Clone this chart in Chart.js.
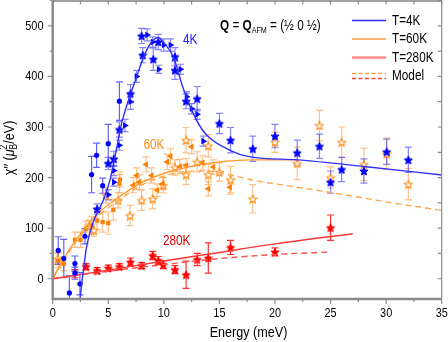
<!DOCTYPE html>
<html>
<head>
<meta charset="utf-8">
<script src="https://cdn.jsdelivr.net/npm/chart.js@4.4.0/dist/chart.umd.min.js"></script>
<style>
  html, body { margin: 0; padding: 0; background: #fff; }
  canvas { display: block; }
</style>
</head>
<body>
<canvas id="chart" width="448" height="342"></canvas>
<script>
// Data: [energy (meV), chi'' , error]
const k4Stars = [[4.0,138,10],[5.0,228,12],[5.5,237,15],[6.0,295,15],[7.0,366,18],[8.0,480,15],[8.1,442,15],
  [9.05,434,22],[9.5,468,15],[11.0,439,18],[11.0,412,18],[12.0,351,15],[13.0,356,24],[15.0,307,20],[16.0,274,25],
  [18.0,257,25],[20.0,282,23],[22.0,249,25],[24.0,262,24],[25.0,191,22],[26.0,216,24],[28.0,213,24],[30.05,251,25],[32.0,235,25]];
const k4Triangles = [[5.0,166,10],[5.5,191,8],[5.5,214,10],[6.0,264,10],[6.5,303,12],[7.0,350,15],[7.55,400,12],
  [8.5,482,12],[9.0,468,10],[9.55,414,8],[10.0,462,12],[10.6,462,12],[11.5,414,10],[12.05,360,10],[12.5,336,10],
  [13.0,325,10],[13.55,272,10]];
const k4Circles = [[0.5,56,27],[1.0,40,38],[1.5,-28,34],[2.0,30,15],[2.0,11,12],[2.45,-10,22],[2.9,84,15],
  [3.5,206,36],[3.95,244,24],[4.5,184,15],[5.0,267,38],[6.0,351,38]];

const k60Squares = [[0.5,36,14],[1.0,30,14],[2.0,77,15],[2.5,77,15],[3.0,99,15],[3.5,105,18],[4.0,115,18],
  [4.5,112,20],[5.0,110,22],[5.45,136,20],[6.0,188,18],[6.05,196,15]];
const k60Triangles = [[7.25,185,15],[7.55,204,15],[7.8,191,15],[8.4,226,15],[8.9,204,15],[9.4,175,12],[9.9,188,12],
  [10.3,231,15],[10.6,242,15],[11.45,222,14],[12.0,224,14],[12.5,261,14],[13.5,229,14],[14.45,221,14],[14.0,178,14],[15.95,181,14]];
const k60Stars = [[0.45,40,12],[3.3,104,12],[3.7,96,12],[4.8,165,15],[5.9,155,15],[6.95,125,20],[8.0,155,20],
  [9.0,158,20],[9.95,185,15],[11.0,220,15],[12.0,274,25],[12.0,206,20],[13.0,231,20],[14.0,263,22],[14.0,206,20],
  [15.0,211,18],[16.0,196,26],[18.0,158,28],[20.0,270,20],[22.0,228,32],[24.0,303,30],[25.0,200,21],[26.0,270,30],
  [28.0,226,32],[30.05,247,31],[32.0,187,31]];

const k280Stars = [[3.0,24,6],[4.0,16,6],[5.0,21,6],[6.0,24,6],[7.0,33,8],[8.0,26,6],[9.0,46,8],[9.5,36,8],
  [9.95,28,8],[11.0,18,8],[12.0,8,27],[13.0,38,12],[14.0,41,30],[16.0,62,14],[20.0,53,8],[25.0,101,25]];
const k280Squares = [[2.0,10,8]];

// fit and model curves
const fit4kE = [2.45,3.05,3.65,4.55,5.15,5.6,6.2,7.55,8.3,8.9,9.5,10.0,10.85,11.75,12.95,13.85,15.95,17.75,22,28,35];
const fit4kV = [-40,63,112,155,195,241,307,399,445,468,477,466,439,376,313,284,254,241,235,222,205];
const fit60kE = [0,1,2,4,6,8,10,12,14,16,18,22];
const fit60kV = [0,40,74,128,162,190,208,220,228,233,235,235];
const model60kE = [0,1,2,4,6,8,10,12,14,16,18,22,26,30,35];
const model60kV = [0,37,70,122,156,185,203,212,213,205,195,181,167,152,135];
const fit280kE = [0,5,10,15,20,27];
const fit280kV = [0,17,35,52,69,89];
const model280kE = [0,5,10,15,20,25];
const model280kV = [0,15,28,40,48,53];

const xTicks = [0,5,10,15,20,25,30,35];
const yTicks = [0,100,200,300,400,500];

const FONT = '"Liberation Sans", Arial, sans-serif';
const NARROW = 0.84;   // the figure uses a condensed sans
const BLUE = '#0000ff', ORANGE = '#ff8000', RED = '#ff0000';

// Utility functions
function starImage(size, fill, stroke, lw = 1) {
  const c = document.createElement('canvas');
  c.width = c.height = size;
  const g = c.getContext('2d');
  const R = size / 2 - 0.7, r = R * 0.45;
  g.beginPath();
  for (let i = 0; i < 10; i++) {
    const a = -Math.PI / 2 + i * Math.PI / 5;
    const rad = i % 2 ? r : R;
    g.lineTo(size / 2 + rad * Math.cos(a), size / 2 + 0.5 + rad * Math.sin(a));
  }
  g.closePath();
  g.fillStyle = fill;
  g.fill();
  g.strokeStyle = stroke;
  g.lineWidth = lw;
  g.stroke();
  return c;
}

function points(arr) { return arr.map(p => ({x: p[0], y: p[1]})); }
function errors(arr) { return arr.map(p => p[2]); }
function curve(xs, ys) { return xs.map((x, i) => ({x: x, y: ys[i]})); }

// text squeezed horizontally to mimic the condensed face
function text(ctx, s, x, y, font, align = 'left', baseline = 'alphabetic') {
  ctx.save();
  ctx.font = font;
  ctx.textAlign = align;
  ctx.textBaseline = baseline;
  ctx.translate(x, y);
  ctx.scale(NARROW, 1);
  ctx.fillText(s, 0, 0);
  const w = ctx.measureText(s).width * NARROW;
  ctx.restore();
  return w;
}

function markerSet(arr, style, color, errColor, extra = {}) {
  return Object.assign({
    data: points(arr),
    errors: errors(arr),
    errorColor: errColor,
    pointStyle: style,
    pointRadius: 3.5,
    backgroundColor: color,
    borderColor: color,
    borderWidth: 0,
    showLine: false
  }, extra);
}

function lineSet(xs, ys, color, dash, width = 1.4) {
  return {
    data: curve(xs, ys),
    showLine: true,
    borderColor: color,
    borderWidth: width,
    borderDash: dash,
    pointRadius: 0,
    cubicInterpolationMode: 'monotone',
    fill: false
  };
}

// Error bars, drawn under the markers
const errorBars = {
  id: 'errorBars',
  beforeDatasetsDraw(chart) {
    const ctx = chart.ctx, xs = chart.scales.x, ys = chart.scales.y, a = chart.chartArea;
    ctx.save();
    ctx.beginPath();
    ctx.rect(a.left, a.top, a.right - a.left, a.bottom - a.top);
    ctx.clip();
    for (let i = chart.data.datasets.length - 1; i >= 0; i--) {
      const ds = chart.data.datasets[i];
      if (!ds.errors) continue;
      ctx.strokeStyle = ds.errorColor;
      ctx.lineWidth = 1.2;
      ds.data.forEach((p, j) => {
        const px = xs.getPixelForValue(p.x);
        const y1 = ys.getPixelForValue(p.y - ds.errors[j]);
        const y2 = ys.getPixelForValue(p.y + ds.errors[j]);
        ctx.beginPath();
        ctx.moveTo(px, y1); ctx.lineTo(px, y2);
        ctx.moveTo(px - 3.5, y1); ctx.lineTo(px + 3.5, y1);
        ctx.moveTo(px - 3.5, y2); ctx.lineTo(px + 3.5, y2);
        ctx.stroke();
      });
    }
    ctx.restore();
  }
};

// Frame, ticks, tick labels, legend and annotations
const decorations = {
  id: 'decorations',
  afterDraw(chart) {
    const ctx = chart.ctx, xs = chart.scales.x, ys = chart.scales.y, a = chart.chartArea;
    ctx.save();
    // frame
    ctx.strokeStyle = '#8c8c8c';
    ctx.lineWidth = 2.5;
    ctx.beginPath();
    ctx.moveTo(a.left, a.top); ctx.lineTo(a.left, a.bottom); ctx.lineTo(a.right, a.bottom);
    ctx.stroke();
    ctx.lineWidth = 1.2;
    ctx.beginPath();
    ctx.moveTo(a.right, a.bottom); ctx.lineTo(a.right, a.top);
    ctx.stroke();
    ctx.strokeStyle = '#444';
    ctx.beginPath();
    ctx.moveTo(a.left, a.top + 0.5); ctx.lineTo(a.right, a.top + 0.5);
    ctx.stroke();

    // ticks
    ctx.strokeStyle = '#8c8c8c';
    ctx.lineWidth = 1.2;
    ctx.beginPath();
    for (let v = 0; v <= 35; v += 2.5) {
      const px = xs.getPixelForValue(v);
      const major = v % 5 === 0;
      ctx.moveTo(px, a.bottom); ctx.lineTo(px, a.bottom + (major ? 5 : 3));
      ctx.moveTo(px, a.top); ctx.lineTo(px, a.top + 4);
    }
    for (let v = 0; v <= 550; v += 50) {
      const py = ys.getPixelForValue(v);
      const major = v % 100 === 0;
      ctx.moveTo(a.left, py); ctx.lineTo(a.left - (major ? 5 : 3), py);
      ctx.moveTo(a.right, py); ctx.lineTo(a.right - 4, py);
    }
    ctx.stroke();

    // tick labels
    ctx.fillStyle = '#000';
    xTicks.forEach(v => text(ctx, String(v), xs.getPixelForValue(v), 313.5, '13px ' + FONT, 'center', 'middle'));
    yTicks.forEach(v => text(ctx, String(v), 43.5, ys.getPixelForValue(v) + 0.5, '13px ' + FONT, 'right', 'middle'));

    // legend
    const lx1 = 352, lx2 = 386, tx = 392;
    const rows = [
      {y: 20.5, label: 'T=4K', color: '#2a2aff', width: 1.4},
      {y: 39, label: 'T=60K', color: '#ff9a3a', width: 1.6},
      {y: 57.5, label: 'T=280K', color: 'rgba(255,60,60,0.6)', width: 2.6}
    ];
    rows.forEach(r => {
      ctx.strokeStyle = r.color;
      ctx.lineWidth = r.width;
      ctx.setLineDash([]);
      ctx.beginPath(); ctx.moveTo(lx1, r.y); ctx.lineTo(lx2, r.y); ctx.stroke();
      text(ctx, r.label, tx, r.y + 0.5, '14px ' + FONT, 'left', 'middle');
    });
    ctx.setLineDash([4, 2.5]);
    ctx.lineWidth = 1.4;
    ctx.strokeStyle = '#ffa040';
    ctx.beginPath(); ctx.moveTo(lx1, 73.5); ctx.lineTo(lx2, 73.5); ctx.stroke();
    ctx.strokeStyle = '#ff4040';
    ctx.beginPath(); ctx.moveTo(lx1, 78.5); ctx.lineTo(lx2, 78.5); ctx.stroke();
    ctx.setLineDash([]);
    text(ctx, 'Model', tx, 76.5, '14px ' + FONT, 'left', 'middle');

    // Q annotation
    let x = 220;
    x += text(ctx, 'Q', x, 30, 'bold 14px ' + FONT);
    x += text(ctx, ' = ', x, 30, '14px ' + FONT);
    x += text(ctx, 'Q', x, 30, 'bold 14px ' + FONT);
    x += text(ctx, 'AFM', x, 32.5, '8.5px ' + FONT);
    text(ctx, ' = (\u00bd 0 \u00bd)', x, 30, '14px ' + FONT);

    // temperature labels
    ctx.fillStyle = '#2020ff'; text(ctx, '4K', 183, 43.5, '14px ' + FONT);
    ctx.fillStyle = '#ff8c1a'; text(ctx, '60K', 143.5, 148.5, '14px ' + FONT);
    ctx.fillStyle = '#e00000'; text(ctx, '280K', 163, 245, '14px ' + FONT);

    // axis titles
    ctx.fillStyle = '#000';
    text(ctx, 'Energy (meV)', 248.5, 336.5, '15px ' + FONT, 'center');

    ctx.translate(14, 148);
    ctx.rotate(-Math.PI / 2);
    const parts = [
      {s: '\u03c7\u2032\u2032 (', f: '15px ', dy: 0},
      {s: '\u03bc', f: 'italic 15px ', dy: 0},
      {s: 'B', f: '10px ', dy: 3},
      {s: '2', f: '10px ', dy: -7.5, back: true},
      {s: '/eV)', f: '15px ', dy: 0}
    ];
    const widths = parts.map(p => { ctx.font = p.f + FONT; return ctx.measureText(p.s).width * NARROW; });
    let total = 0;
    parts.forEach((p, i) => { total += p.back ? Math.max(0, widths[i] - widths[i - 1]) : widths[i]; });
    let cx = -total / 2;
    parts.forEach((p, i) => {
      if (p.back) {
        text(ctx, p.s, cx - widths[i - 1], p.dy, p.f + FONT);
        cx += Math.max(0, widths[i] - widths[i - 1]);
      } else {
        text(ctx, p.s, cx, p.dy, p.f + FONT);
        cx += widths[i];
      }
    });
    ctx.restore();
  }
};

const star4k = starImage(10, BLUE, BLUE);
const star60k = starImage(10, '#ffffff', '#ff8a10', 1.1);
const star280k = starImage(10, RED, RED);

const datasets = [
  lineSet(fit4kE, fit4kV, '#3030ff', [], 1.4),
  markerSet(k4Stars, star4k, BLUE, 'rgba(30,30,255,0.55)'),
  markerSet(k4Triangles, 'triangle', BLUE, 'rgba(30,30,255,0.55)', {pointRotation: 90, pointRadius: 3.8}),
  markerSet(k4Circles, 'circle', BLUE, 'rgba(30,30,255,0.7)', {pointRadius: 2.6}),
  lineSet(fit60kE, fit60kV, '#ff9a30', [], 1.4),
  lineSet(model60kE, model60kV, '#ffa850', [6, 4], 1.4),
  markerSet(k60Squares, 'rect', ORANGE, 'rgba(255,150,60,0.6)', {pointRadius: 3}),
  markerSet(k60Triangles, 'triangle', ORANGE, 'rgba(255,150,60,0.6)', {pointRotation: -90, pointRadius: 3.8}),
  markerSet(k60Stars, star60k, ORANGE, 'rgba(255,150,60,0.6)'),
  lineSet(fit280kE, fit280kV, '#ff3838', [], 1.4),
  lineSet(model280kE, model280kV, '#ff5050', [6, 4], 1.4),
  markerSet(k280Stars, star280k, RED, '#ff3030'),
  markerSet(k280Squares, 'rect', RED, '#ff3030', {pointRadius: 3})
];

document.addEventListener('DOMContentLoaded', function() {
  const ctx = document.getElementById('chart').getContext('2d');
  new Chart(ctx, {
    type: 'scatter',
    data: { datasets: datasets },
    options: {
      responsive: false,
      animation: false,
      events: [],
      layout: { autoPadding: false, padding: { top: 0.5, right: 6.3, left: 0, bottom: 0 } },
      plugins: { legend: { display: false }, tooltip: { enabled: false } },
      scales: {
        x: {
          type: 'linear', min: 0, max: 35,
          grid: { display: false, drawTicks: false },
          border: { display: false },
          ticks: { display: false },
          afterFit: s => { s.height = 43; }
        },
        y: {
          type: 'linear', min: -40, max: 550,
          grid: { display: false, drawTicks: false },
          border: { display: false },
          ticks: { display: false },
          afterFit: s => { s.width = 52.7; }
        }
      }
    },
    plugins: [errorBars, decorations]
  });
});
</script>
</body>
</html>
